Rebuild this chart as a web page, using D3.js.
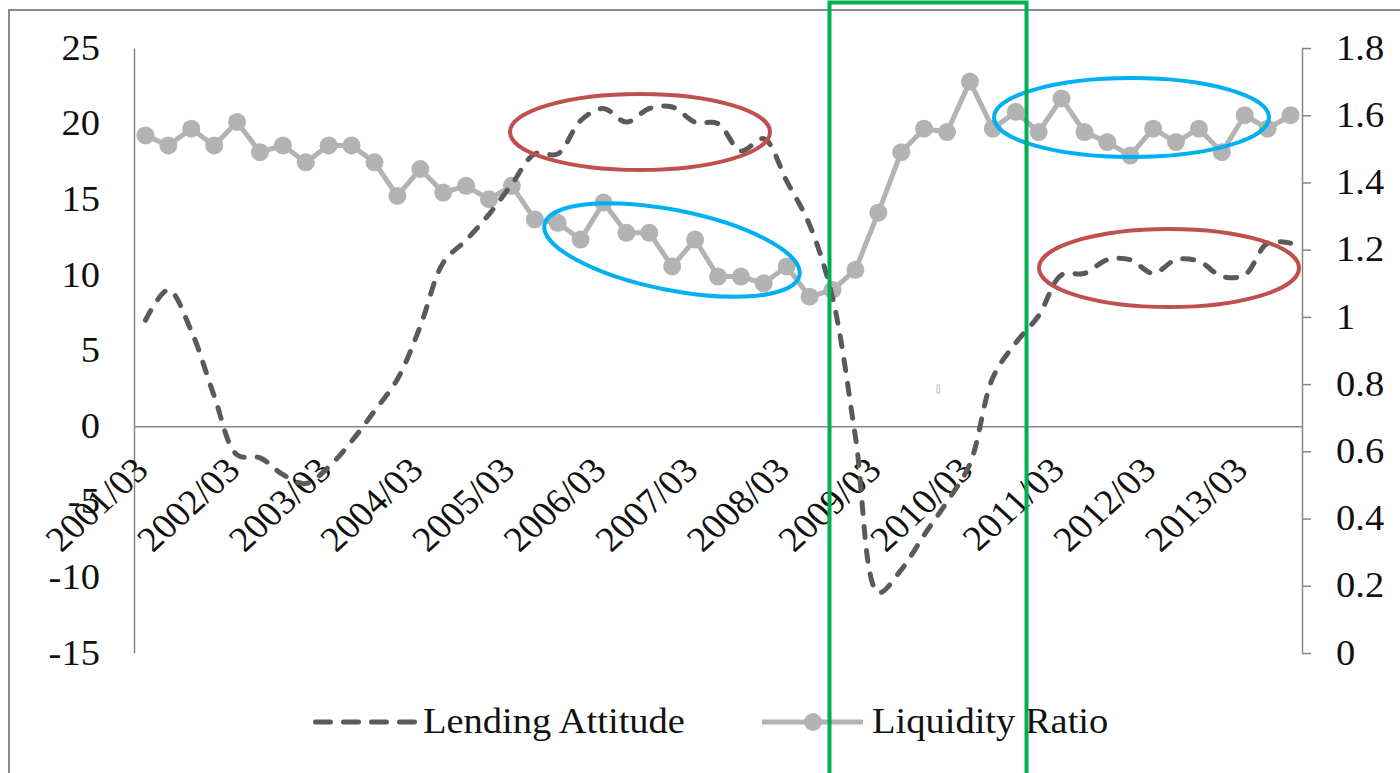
<!DOCTYPE html>
<html><head><meta charset="utf-8">
<script src="https://cdn.jsdelivr.net/npm/d3@7"></script>
<style>html,body{margin:0;padding:0;background:#fff;overflow:hidden;} svg{display:block;}</style>
</head><body><svg id="c" width="1400" height="773"></svg>
<script>
// ---------- data ----------
const categories = [
  "2001/03","2001/06","2001/09","2001/12",
  "2002/03","2002/06","2002/09","2002/12",
  "2003/03","2003/06","2003/09","2003/12",
  "2004/03","2004/06","2004/09","2004/12",
  "2005/03","2005/06","2005/09","2005/12",
  "2006/03","2006/06","2006/09","2006/12",
  "2007/03","2007/06","2007/09","2007/12",
  "2008/03","2008/06","2008/09","2008/12",
  "2009/03","2009/06","2009/09","2009/12",
  "2010/03","2010/06","2010/09","2010/12",
  "2011/03","2011/06","2011/09","2011/12",
  "2012/03","2012/06","2012/09","2012/12",
  "2013/03","2013/06","2013/09"
];
const lendingAttitude = [
  7.0, 9.0, 6.3, 2.0, -1.9, -2.1, -3.2, -3.8, -2.7, -1.0, 1.0, 3.1,
  6.6, 10.8, 12.3, 14.0, 16.0, 18.0, 18.0, 20.2, 21.0, 20.1, 21.0, 21.1,
  20.1, 20.0, 18.2, 19.0, 16.2, 13.3, 8.5, -0.7, -11.0, -9.5, -7.2, -5.0,
  -2.5, 3.2, 5.5, 7.3, 10.0, 10.1, 11.0, 11.0, 10.1, 11.0, 10.9, 9.9,
  10.0, 12.1, 12.1
];
const liquidityRatio = [
  1.54, 1.51, 1.56, 1.51, 1.58, 1.49, 1.51, 1.46, 1.51, 1.51, 1.46, 1.36,
  1.44, 1.37, 1.39, 1.35, 1.39, 1.29, 1.28, 1.23, 1.34, 1.25, 1.25, 1.15,
  1.23, 1.12, 1.12, 1.10, 1.15, 1.06, 1.08, 1.14, 1.31, 1.49, 1.56, 1.55,
  1.70, 1.56, 1.61, 1.55, 1.65, 1.55, 1.52, 1.48, 1.56, 1.52, 1.56, 1.49,
  1.60, 1.56, 1.60
];
const leftTicks = [-15, -10, -5, 0, 5, 10, 15, 20, 25];
const rightTicks = [0, 0.2, 0.4, 0.6, 0.8, 1, 1.2, 1.4, 1.6, 1.8];
const xTickLabels = ["2001/03","2002/03","2003/03","2004/03","2005/03","2006/03","2007/03",
                     "2008/03","2009/03","2010/03","2011/03","2012/03","2013/03"];
const seriesNames = ["Lending Attitude", "Liquidity Ratio"];

// ---------- setup ----------
const SX = 1.1;               // horizontal stretch of text in the reference
const FONT = "'Liberation Serif','Times New Roman',serif";
const svg = d3.select("#c");
const plot = {left:134, right:1302, top:48, bottom:653};

const x = d3.scaleBand().domain(categories).range([plot.left, plot.right]);
const cx = d => x(d) + x.bandwidth()/2;
const yL = d3.scaleLinear().domain([-15, 25]).range([plot.bottom, plot.top]);
const yR = d3.scaleLinear().domain([0, 1.8]).range([plot.bottom, plot.top]);

const AXIS = "#868686";
const DARK = "#5a5a5a";
const LIGHT = "#b3b3b3";

// outer frame
svg.append("rect").attr("x", 9).attr("y", 10).attr("width", 1500).attr("height", 900)
  .attr("fill", "#fff").attr("stroke", "#8c8c8c").attr("stroke-width", 2);

// ---------- axes ----------
const gL = svg.append("g").attr("transform", `translate(${plot.left},0)`)
  .call(d3.axisLeft(yL).tickValues(leftTicks).tickSize(0).tickSizeOuter(0).tickPadding(31)
        .tickFormat(d => String(d)));
const gR = svg.append("g").attr("transform", `translate(${plot.right},0)`)
  .call(d3.axisRight(yR).tickValues(rightTicks).tickSize(9).tickSizeOuter(0).tickPadding(22)
        .tickFormat(d => String(+d.toFixed(1))));
const gX = svg.append("g").attr("transform", `translate(0,${yL(0)})`)
  .call(d3.axisBottom(x).tickValues(xTickLabels).tickSize(0).tickSizeOuter(0));

[gL, gR, gX].forEach(g => {
  g.select(".domain").attr("stroke", AXIS).attr("stroke-width", 1.5);
  g.selectAll(".tick line").attr("stroke", AXIS).attr("stroke-width", 1.5);
  g.selectAll("text").attr("font-family", FONT).attr("font-size", 35).attr("fill", "#111");
});
gL.selectAll(".tick text").attr("transform", `scale(${SX},1)`);
gR.selectAll(".tick text").attr("transform", `scale(${SX},1)`);
gX.selectAll(".tick text")
  .attr("x", 0).attr("y", 0).attr("dy", 0)
  .attr("text-anchor", "end")
  .attr("transform", `translate(5,46) scale(${SX},1) rotate(-45)`);

// ---------- series ----------
const liqLine = d3.line().x((d, i) => cx(categories[i])).y(d => yR(d));
svg.append("path").datum(liquidityRatio)
  .attr("d", liqLine).attr("fill", "none").attr("stroke", LIGHT)
  .attr("stroke-width", 5).attr("stroke-linejoin", "round");
svg.append("g").selectAll("circle").data(liquidityRatio).join("circle")
  .attr("cx", (d, i) => cx(categories[i])).attr("cy", d => yR(d))
  .attr("r", 9).attr("fill", LIGHT);

const lendLine = d3.line().curve(d3.curveCatmullRom.alpha(0.5))
  .x((d, i) => cx(categories[i])).y(d => yL(d));
svg.append("path").datum(lendingAttitude)
  .attr("d", lendLine).attr("fill", "none").attr("stroke", DARK)
  .attr("stroke-width", 5).attr("stroke-dasharray", "11,13").attr("stroke-linecap", "round");

// ---------- legend ----------
const lg = svg.append("g");
lg.append("line").attr("x1", 315.5).attr("x2", 414.5).attr("y1", 722).attr("y2", 722)
  .attr("stroke", DARK).attr("stroke-width", 5).attr("stroke-dasharray", "15,13").attr("stroke-linecap", "round");
lg.append("text").attr("transform", `translate(423,733) scale(${SX},1)`)
  .attr("font-family", FONT).attr("font-size", 35).attr("fill", "#111").text(seriesNames[0]);
lg.append("line").attr("x1", 762).attr("x2", 863).attr("y1", 722).attr("y2", 722)
  .attr("stroke", LIGHT).attr("stroke-width", 5);
lg.append("circle").attr("cx", 813).attr("cy", 722).attr("r", 9).attr("fill", LIGHT);
lg.append("text").attr("transform", `translate(872,733) scale(${SX},1)`)
  .attr("font-family", FONT).attr("font-size", 35).attr("fill", "#111").text(seriesNames[1]);

// ---------- annotations ----------
const ann = svg.append("g").attr("fill", "none").attr("stroke-width", 4);
ann.append("ellipse").attr("cx", 640).attr("cy", 132).attr("rx", 130).attr("ry", 38).attr("stroke", "#c0504d");
ann.append("ellipse").attr("cx", 0).attr("cy", 0).attr("rx", 130).attr("ry", 40)
  .attr("transform", "translate(672,250) rotate(11.3)").attr("stroke", "#00b0f0");
ann.append("ellipse").attr("cx", 1169).attr("cy", 268).attr("rx", 130).attr("ry", 39).attr("stroke", "#c0504d");
ann.append("ellipse").attr("cx", 1131.5).attr("cy", 117.5).attr("rx", 137.5).attr("ry", 39.5).attr("stroke", "#00b0f0");
ann.append("rect").attr("x", 829.5).attr("y", 2.5).attr("width", 197).attr("height", 820)
  .attr("stroke", "#00b050");
ann.append("rect").attr("x", 937).attr("y", 385).attr("width", 2.5).attr("height", 8)
  .attr("stroke", "#aaa").attr("stroke-width", 0.8).attr("fill", "#fff");
</script></body></html>
